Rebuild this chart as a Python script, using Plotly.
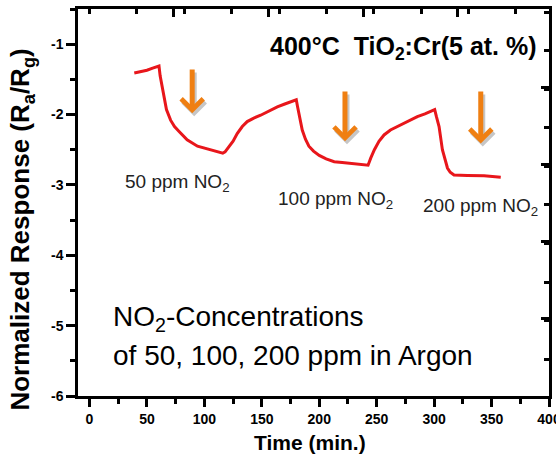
import plotly.graph_objects as go

# ---- data ----
time_min = [39, 45, 50, 55, 60.5, 61.5, 63.3, 65, 67, 70.6, 74, 78, 85, 94, 105, 112, 116,
            118, 121.4, 125, 128.6, 133, 137.3, 143, 149, 157, 163.5, 170, 180,
            181, 182.5, 185.2, 188, 191, 195, 200, 206, 213, 220, 227, 235, 242.5,
            244.8, 248, 252, 256.4, 262, 268, 275, 280, 285.4, 292, 300.5,
            302, 304.3, 307.2, 309.5, 311.6, 314, 317.3, 329, 343.5, 358]
response = [-1.41, -1.39, -1.37, -1.34, -1.31, -1.45, -1.60, -1.78, -1.93, -2.08, -2.17, -2.24, -2.36, -2.45, -2.50, -2.53, -2.55,
            -2.53, -2.46, -2.38, -2.27, -2.17, -2.10, -2.05, -2.01, -1.94, -1.89, -1.85, -1.79,
            -1.88, -2.00, -2.22, -2.35, -2.45, -2.52, -2.58, -2.63, -2.67, -2.68, -2.69, -2.70, -2.72,
            -2.62, -2.50, -2.38, -2.29, -2.22, -2.17, -2.11, -2.07, -2.03, -1.99, -1.93,
            -2.03, -2.17, -2.50, -2.66, -2.76, -2.82, -2.86, -2.865, -2.87, -2.89]

arrow_x = [89.4, 222.4, 340.6]
arrow_tail_y = [-1.34, -1.65, -1.65]
arrow_tip_y = [-1.98, -2.38, -2.41]

conc_labels = ["50 ppm NO<sub>2</sub>", "100 ppm NO<sub>2</sub>", "200 ppm NO<sub>2</sub>"]
conc_label_x = [29.6, 162, 288.3]
conc_label_y = [-2.97, -3.22, -3.31]

x_ticks = [0, 50, 100, 150, 200, 250, 300, 350, 400]
x_ticktext = ["0", "50", "100", "150", "200", "250", "300", "350", "400"]
y_ticks = [-6, -5, -4, -3, -2, -1]
y_ticktext = ["-6", "-5", "-4", "-3", "-2", "-1"]

x_range = [-10, 400]
y_range = [-6, -0.5]

FONT = "Arial, Liberation Sans, sans-serif"
RED = "#e8161b"
ORANGE = "#ef7f12"

fig = go.Figure()
fig.add_trace(go.Scatter(x=time_min, y=response, mode="lines",
                         line=dict(color=RED, width=3), showlegend=False,
                         hoverinfo="skip"))
# dummy trace for the mirrored (top/right) tick axes
fig.add_trace(go.Scatter(x=[None], y=[None], xaxis="x2", yaxis="y2",
                         showlegend=False, hoverinfo="skip"))

annotations = []
# arrows with soft shadow
for ax_, ty, hy in zip(arrow_x, arrow_tail_y, arrow_tip_y):
    for col, xs, ys in (("rgba(0,0,0,0.22)", 2, -3), (ORANGE, 0, 0)):
        annotations.append(dict(x=ax_, y=hy, ax=ax_, ay=ty, xref="x", yref="y",
                                axref="x", ayref="y", text="", showarrow=True,
                                arrowhead=4, arrowwidth=5, arrowsize=0.85,
                                arrowcolor=col, xshift=xs, yshift=ys))

for t, x, y in zip(conc_labels, conc_label_x, conc_label_y):
    annotations.append(dict(x=x, y=y, xref="x", yref="y", text=t, showarrow=False,
                            xanchor="left", yanchor="middle",
                            font=dict(family=FONT, size=19, color="#222")))

annotations.append(dict(x=155, y=-1.06, xref="x", yref="y",
                        text="400°C  TiO<sub>2</sub>:Cr(5 at. %)", showarrow=False,
                        xanchor="left", yanchor="middle",
                        font=dict(family=FONT, size=25, color="black", weight="bold")))
annotations.append(dict(x=18.3, y=-4.90, xref="x", yref="y",
                        text="NO<sub>2</sub>-Concentrations", showarrow=False,
                        xanchor="left", yanchor="middle",
                        font=dict(family=FONT, size=28, color="black")))
annotations.append(dict(x=18.3, y=-5.43, xref="x", yref="y",
                        text="of 50, 100, 200 ppm in Argon", showarrow=False,
                        xanchor="left", yanchor="middle",
                        font=dict(family=FONT, size=28, color="black")))
# axis titles
annotations.append(dict(x=-0.119, y=0.43, xref="paper", yref="paper",
                        text="Normalized Response (R<sub>a</sub>/R<sub>g</sub>)",
                        textangle=-90, showarrow=False, xanchor="center", yanchor="middle",
                        font=dict(family=FONT, size=26, color="black", weight="bold")))
annotations.append(dict(x=0.4926, y=-0.121, xref="paper", yref="paper",
                        text="Time (min.)", showarrow=False, xanchor="center", yanchor="middle",
                        font=dict(family=FONT, size=21, color="black", weight="bold")))

axis_common = dict(showgrid=False, zeroline=False, linecolor="black", linewidth=2.5,
                   tickcolor="black", tickwidth=2.5, ticklabeloverflow="allow",
                   automargin=False,
                   tickfont=dict(family=FONT, size=14, color="black", weight="bold"))

fig.update_layout(
    width=556, height=461,
    margin=dict(l=78, r=7, t=9, b=65, autoexpand=False),
    paper_bgcolor="white", plot_bgcolor="white",
    xaxis=dict(range=x_range, tickmode="array", tickvals=x_ticks, ticktext=x_ticktext,
               ticks="outside", ticklen=8, mirror=True, showline=True,
               minor=dict(dtick=25, tick0=0, ticks="outside", ticklen=5, tickcolor="black", tickwidth=2.5),
               **axis_common),
    yaxis=dict(range=y_range, tickmode="array", tickvals=y_ticks, ticktext=y_ticktext,
               ticks="outside", ticklen=9, mirror=True, showline=True,
               minor=dict(dtick=0.5, tick0=0, ticks="outside", ticklen=5, tickcolor="black", tickwidth=2.5),
               **axis_common),
    xaxis2=dict(range=x_range, overlaying="x", side="top", anchor="y2",
                tick0=73.2, dtick=82.5, ticks="inside", ticklen=8, tickwidth=2.5,
                tickcolor="black", showticklabels=False, showline=False,
                showgrid=False, zeroline=False, automargin=False,
                minor=dict(dtick=41.25, ticks="inside", ticklen=5, tickcolor="black", tickwidth=2.5)),
    yaxis2=dict(range=y_range, overlaying="y", side="right", anchor="x2",
                tick0=-1.609, dtick=1.095, ticks="inside", ticklen=8, tickwidth=2.5,
                tickcolor="black", showticklabels=False, showline=False,
                showgrid=False, zeroline=False, automargin=False,
                minor=dict(dtick=0.5475, ticks="inside", ticklen=5, tickcolor="black", tickwidth=2.5)),
    annotations=annotations,
)

fig.write_html("out.html")
